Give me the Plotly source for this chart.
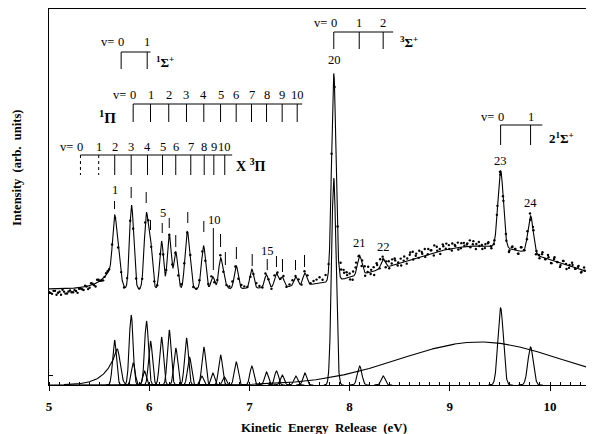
import numpy as np
import plotly.graph_objects as go

# ---------------- data ----------------
OFFSET = 96  # vertical offset of the measured spectrum above the components

# individual fitted components (centre eV, height, width sigma eV)
peak_E = [5.654, 5.68, 5.82, 5.84, 5.953, 5.973, 6.013, 6.123, 6.20, 6.265,
          6.372, 6.402, 6.525, 6.545, 6.635, 6.712, 6.75, 6.868, 7.024, 7.17,
          7.27, 7.327, 7.463, 7.553, 7.842, 8.10, 8.335, 9.507, 9.806]
peak_H = [45, 36, 70, 22, 14, 64, 44, 48, 55, 37,
          47, 28, 9, 38, 12, 30, 8, 23, 19, 13,
          14, 10, 9, 12, 207, 19, 9, 77, 38]
peak_W = [0.019, 0.03, 0.019, 0.019, 0.018, 0.019, 0.019, 0.019, 0.019, 0.019,
          0.019, 0.019, 0.018, 0.019, 0.018, 0.019, 0.018, 0.019, 0.019, 0.019,
          0.019, 0.019, 0.019, 0.019, 0.022, 0.022, 0.02, 0.027, 0.027]
tail_peak = 1          # component with an exponential low-energy tail
tail_tau = 0.115

bg_center, bg_height, bg_width = 9.3, 43, 0.8   # broad background component

dot_start, dot_step = 5.0, 0.03
dot_resid = [-3, -5, -2, -4, -6, -3, -5, -2, -4, -3, -1,
             -2, 1, -3, 2, -1, 3, 0, -2, 2, 1,
             1, -2, 0, 2, -1, 3, 1, -2, 2, 0,
             -1, 2, 3, -2, 1, 0, -3, 2, 1, -1,
             2, 0, -2, 3, 1, -1, 2, -2, 0, 3,
             1, -1, 2, 4, -2, 1, 3, 0, -1, 2,
             4, 1, -2, 3, 2, 0, -3, 1, 4, 2,
             -1, 3, 1, -2, 4, 2, 0, 3, -1, 2,
             4, 1, 3, -2, 2, 5, 1, 3,
             4, 6, 3, 7, 5, 2,
             0, 7, 15, 9, 6, 4,
             -3, 5, 2, -4, 6, 1, -2, 4, 7, -1,
             3, -4, 5, 2, 6, -2, 4, 1, -3, 5,
             7, 2, -1, 4, 6, 0, 3, -3, 5, 2,
             6, 1, 4, -2, 3, 5, -1, 4, 2, 6,
             2, -3, 4, 1, -2, 3, 0, -1, 2, 1,
             -2, 3, -4, 2, 1, -3, 4, 0, -2, 3,
             2, -4, 1, 3, -1, 4, -3, 2, 0, -4,
             3, 1, -2, 4, -1, 2, -3, 3, 0, -2, 1]
# extra measured points in the low-energy baseline and above the 20 peak
dot2_left_start = 5.015
dot2_left_resid = [-4, -2, -6, -3, -1, -5, -3, -4, -2, -5,
                   -1, -3, 0, -2, 1, -3, 2, -1, 0, 2]
dot2_right_start = 7.915
dot2_right_resid = [9, 6, 3, -2, 5, 8, 1, 4, -3, 6,
                    2, -4, 5, 7, 0, 3, -2, 6, 4, 1,
                    -3, 5, 2, 7, -1, 4, 6, 2, -2, 5,
                    3, 7, 1, -3, 4, 6, 0, 5, 2, -2,
                    4, 1, 3, -1, 5, 2, 0, -3, 2, 4,
                    -2, 1, 3, -4, 2, 0, -2, 3, 1, -3,
                    4, -1, 2, -4, 3, 1, -2, 5, -1, 2,
                    -3, 4, 0, -2, 3, -4, 1, 2, -1, 3,
                    -2, 0, 4, -3, 1]

# peak numbering labels
label_text = ["1", "5", "10", "15", "20", "21", "22", "23", "24"]
label_E = [5.654, 6.136, 6.652, 7.178, 7.845, 8.10, 8.34, 9.507, 9.806]
label_Y = [195, 172, 165, 134, 325, 142, 138, 224, 182]

# short assignment marks above the spectrum (E, top, bottom)
mark_E = [5.654, 5.82, 5.97, 6.013, 6.13, 6.20, 6.265, 6.385, 6.545, 6.64,
          6.712, 6.76, 6.87, 7.028, 7.178, 7.27, 7.33, 7.46, 7.55]
mark_top = [184, 198, 193, 165, 162, 167, 150, 173, 164, 157,
            151, 133, 138, 131, 126, 129, 126, 125, 130]
mark_bot = [176, 187, 182, 155, 152, 157, 138, 162, 153, 115,
            138, 120, 126, 119, 115, 118, 113, 115, 118]

# vibrational combs
comb_sig1_E = [5.72, 5.98]
comb_pi1_E = [5.84, 6.013, 6.195, 6.372, 6.545, 6.712, 6.868, 7.021, 7.171, 7.327, 7.477]
comb_x3pi_E = [5.314, 5.496, 5.656, 5.82, 5.983, 6.133, 6.265, 6.415, 6.549, 6.645, 6.754]
comb_sig3_E = [7.842, 8.096, 8.335]
comb_sig21_E = [9.507, 9.806]

x_ticks = [5, 6, 7, 8, 9, 10]

# ---------------- model curves ----------------
def component(i, x):
    c, h, w = peak_E[i], peak_H[i], peak_W[i]
    g = h * np.exp(-(x - c) ** 2 / (2 * w ** 2))
    if i == tail_peak:
        g = np.where(x < c, np.maximum(g, h * np.exp(-(c - x) / tail_tau)), g)
    return g

def background(x):
    return bg_height * np.exp(-(x - bg_center) ** 2 / (2 * bg_width ** 2))

def fit(x):
    s = OFFSET + background(x)
    for i in range(len(peak_E)):
        s = s + component(i, x)
    return s

XMIN, XMAX = 5.0, 10.439
grid = np.linspace(XMIN, XMAX, 4000)

fig = go.Figure()
LW = 1.1
black = "black"

# individual components
cx, cy = [], []
for i in range(len(peak_E)):
    lo = peak_E[i] - 4.5 * peak_W[i]
    if i == tail_peak:
        lo = 5.15
    xs = np.linspace(lo, peak_E[i] + 4.5 * peak_W[i], 160)
    cx += list(xs) + [None]
    cy += list(component(i, xs)) + [None]
fig.add_trace(go.Scatter(x=cx, y=cy, mode="lines", line=dict(color=black, width=LW),
                         hoverinfo="skip", showlegend=False))
fig.add_trace(go.Scatter(x=grid, y=background(grid), mode="lines",
                         line=dict(color=black, width=LW), showlegend=False))

# fit curve
fig.add_trace(go.Scatter(x=grid, y=fit(grid), mode="lines",
                         line=dict(color=black, width=LW), showlegend=False))

# measured points
def add_dots(start, resid):
    e = np.array([start + dot_step * i for i in range(len(resid))])
    fig.add_trace(go.Scatter(x=e, y=fit(e) + np.array(resid), mode="markers",
                             marker=dict(color=black, size=2.4), showlegend=False))

add_dots(dot_start, dot_resid)
add_dots(dot2_left_start, dot2_left_resid)
add_dots(dot2_right_start, dot2_right_resid)

# assignment marks
mx, my = [], []
for e, t, b in zip(mark_E, mark_top, mark_bot):
    mx += [e, e, None]
    my += [t, b, None]
fig.add_trace(go.Scatter(x=mx, y=my, mode="lines", line=dict(color=black, width=1),
                         showlegend=False))

# combs
annotations = []
FONT = "Liberation Serif"

def comb(Es, y_line, y_tick, ext, y_num, dotted=()):
    xs = [Es[0], Es[-1] + ext, None]
    ys = [y_line, y_line, None]
    dx, dy = [], []
    for k, e in enumerate(Es):
        if k in dotted:
            dx += [e, e, None]
            dy += [y_line, y_tick, None]
        else:
            xs += [e, e, None]
            ys += [y_line, y_tick, None]
        annotations.append(dict(x=e, y=y_num, xref="x", yref="y", text=str(k),
                                showarrow=False, font=dict(family=FONT, size=12.5, color=black),
                                xanchor="center", yanchor="middle"))
    annotations.append(dict(x=Es[0], y=y_num, xref="x", yref="y", text="v=",
                            showarrow=False, xshift=-5,
                            font=dict(family=FONT, size=12.5, color=black),
                            xanchor="right", yanchor="middle"))
    fig.add_trace(go.Scatter(x=xs, y=ys, mode="lines", line=dict(color=black, width=1),
                             showlegend=False))
    if dx:
        fig.add_trace(go.Scatter(x=dx, y=dy, mode="lines",
                                 line=dict(color=black, width=1, dash="dot"),
                                 showlegend=False))

comb(comb_sig1_E, 333, 316, 0.033, 343)
comb(comb_pi1_E, 281, 263, 0.05, 290)
comb(comb_x3pi_E, 230, 210, 0.074, 238, dotted=(0, 1))
comb(comb_sig3_E, 353, 336, 0.10, 362)
comb(comb_sig21_E, 260, 240, 0.117, 268)

def txt(x, y, s, size=13, anchor="left", bold=True):
    annotations.append(dict(x=x, y=y, xref="x", yref="y",
                            text=("<b>%s</b>" % s) if bold else s, showarrow=False,
                            font=dict(family=FONT, size=size, color=black),
                            xanchor=anchor, yanchor="middle"))

txt(6.043, 323, "<sup>1</sup>Σ<sup>+</sup>", 13)
txt(5.584, 268, "<sup>1</sup>Π", 15, "center")
txt(6.851, 220, "X <sup>3</sup>Π", 14)
txt(8.478, 343, "<sup>3</sup>Σ<sup>+</sup>", 13)
txt(9.965, 247, "2<sup>1</sup>Σ<sup>+</sup>", 13)

for s, e, y in zip(label_text, label_E, label_Y):
    txt(e, y, s, 12.5, "center", bold=False)

# axis titles
annotations.append(dict(x=0.505, y=-0.112, xref="paper", yref="paper",
                        text="<b>Kinetic  Energy  Release  (eV)</b>", showarrow=False,
                        font=dict(family=FONT, size=13, color=black),
                        xanchor="center", yanchor="middle"))
annotations.append(dict(x=-0.059, y=0.577, xref="paper", yref="paper",
                        text="<b>Intensity  (arb.  units)</b>", showarrow=False, textangle=-90,
                        font=dict(family=FONT, size=12.5, color=black),
                        xanchor="center", yanchor="middle"))

# the page body has an 8 px margin, so the figure is sized/offset to compensate
fig.update_layout(
    width=586, height=426,
    margin=dict(l=41, r=0, t=1, b=49),
    paper_bgcolor="white", plot_bgcolor="white",
    showlegend=False,
    annotations=annotations,
    xaxis=dict(range=[XMIN, XMAX], showline=True, linecolor=black, linewidth=1,
               mirror=True, showgrid=False, zeroline=False,
               tickmode="array", tickvals=x_ticks, ticktext=["<b>%d</b>" % t for t in x_ticks],
               ticks="outside", ticklen=5, tickcolor=black, ticklabelstandoff=4,
               tickfont=dict(family=FONT, size=13, color=black),
               minor=dict(ticks="inside", dtick=0.1, tick0=5, ticklen=3, tickcolor=black)),
    yaxis=dict(range=[0, 376], showline=True, linecolor=black, linewidth=1,
               showgrid=False, zeroline=False, tickvals=[10, 92], ticks="inside",
               ticklen=4, tickcolor=black, showticklabels=False),
)

fig.write_html("out.html")
